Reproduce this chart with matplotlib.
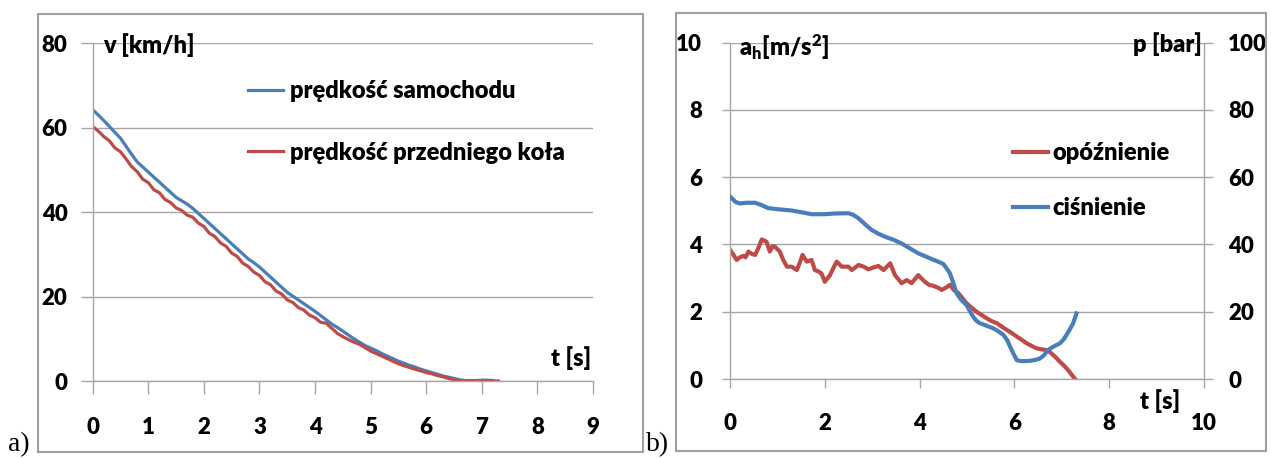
import matplotlib
matplotlib.use('Agg')
import matplotlib.pyplot as plt
from matplotlib.patches import Rectangle

FAM = 'Lato'
WEIGHT = 'heavy'
plt.rcParams['font.family'] = [FAM, 'DejaVu Sans']
plt.rcParams['font.weight'] = WEIGHT
plt.rcParams['mathtext.fontset'] = 'custom'
plt.rcParams['mathtext.rm'] = FAM + ':' + WEIGHT
plt.rcParams['mathtext.it'] = FAM + ':' + WEIGHT

# ---------------- data: panel a ----------------
t_car = [0.0, 0.1, 0.2, 0.3, 0.4, 0.5, 0.6, 0.7, 0.8, 0.9, 1.0, 1.1, 1.2, 1.3, 1.4, 1.5, 1.6, 1.7, 1.8, 1.9,
         2.0, 2.1, 2.2, 2.3, 2.4, 2.5, 2.6, 2.7, 2.8, 2.9, 3.0, 3.1, 3.2, 3.3, 3.4, 3.5, 3.6, 3.7, 3.8, 3.9,
         4.0, 4.1, 4.2, 4.3, 4.4, 4.5, 4.6, 4.7, 4.8, 4.9, 5.0, 5.1, 5.2, 5.3, 5.4, 5.5, 5.6, 5.7, 5.8, 5.9,
         6.0, 6.1, 6.2, 6.3, 6.4, 6.5, 6.6, 6.7, 6.8, 6.9, 7.0, 7.1, 7.2]
v_car = [64.3, 63.0, 61.7, 60.3, 58.9, 57.5, 55.6, 53.7, 51.9, 50.7, 49.5, 48.3, 47.1, 45.9, 44.7, 43.5, 42.7, 41.9, 40.9, 39.7,
         38.5, 37.3, 36.1, 34.9, 33.7, 32.5, 31.3, 30.1, 28.9, 28.0, 27.0, 25.8, 24.6, 23.4, 22.2, 21.0, 20.1, 19.2, 18.3, 17.4,
         16.5, 15.5, 14.5, 13.5, 12.7, 11.8, 10.9, 10.0, 9.2, 8.4, 7.8, 7.2, 6.5, 5.9, 5.3, 4.7, 4.2, 3.7, 3.3, 2.8,
         2.4, 2.0, 1.6, 1.2, 0.9, 0.6, 0.3, 0.1, 0.1, 0.1, 0.2, 0.2, 0.1]
t_wheel = [0.0, 0.1, 0.2, 0.3, 0.4, 0.5, 0.6, 0.7, 0.8, 0.9, 1.0, 1.1, 1.2, 1.3, 1.4, 1.5, 1.6, 1.7, 1.8, 1.9,
           2.0, 2.1, 2.2, 2.3, 2.4, 2.5, 2.6, 2.7, 2.8, 2.9, 3.0, 3.1, 3.2, 3.3, 3.4, 3.5, 3.6, 3.7, 3.8, 3.9,
           4.0, 4.1, 4.2, 4.3, 4.4, 4.5, 4.6, 4.7, 4.8, 4.9, 5.0, 5.1, 5.2, 5.3, 5.4, 5.5, 5.6, 5.7, 5.8, 5.9,
           6.0, 6.1, 6.2, 6.3, 6.4, 6.5, 6.6, 6.7, 6.8, 6.9, 7.0, 7.1, 7.2, 7.3]
v_wheel = [60.3, 59.2, 57.9, 56.9, 55.2, 54.3, 52.6, 50.8, 49.6, 47.8, 47.0, 45.3, 44.6, 43.0, 42.3, 41.0, 40.4, 39.3, 38.8, 37.4,
           36.6, 35.0, 34.2, 32.7, 31.9, 30.3, 29.5, 27.9, 27.1, 25.8, 25.0, 23.5, 22.8, 21.3, 20.6, 19.2, 18.6, 17.4, 16.8, 15.6,
           15.0, 13.9, 13.7, 12.5, 11.3, 10.5, 9.8, 9.2, 8.7, 7.9, 7.1, 6.5, 5.9, 5.3, 4.7, 4.1, 3.6, 3.2, 2.8, 2.4,
           2.0, 1.7, 1.3, 1.0, 0.6, 0.3, 0.0, 0.0, 0.0, 0.0, 0.0, 0.0, 0.0, 0.0]
xticks_a = [0, 1, 2, 3, 4, 5, 6, 7, 8, 9]
yticks_a = [0, 20, 40, 60, 80]

# ---------------- data: panel b ----------------
t_dec = [0.0, 0.07, 0.14, 0.21, 0.28, 0.33, 0.39, 0.46, 0.53, 0.60, 0.67, 0.72, 0.77, 0.84, 0.90, 0.95,
         1.05, 1.12, 1.2, 1.3, 1.41, 1.47, 1.53, 1.62, 1.72, 1.79, 1.86, 1.93, 2.0, 2.11, 2.18, 2.25,
         2.36, 2.5, 2.57, 2.71, 2.82, 2.92, 3.03, 3.13, 3.24, 3.38, 3.48, 3.62, 3.73, 3.83, 3.97, 4.11,
         4.2, 4.29, 4.38, 4.47, 4.56, 4.64, 4.72, 4.82, 4.99, 5.1, 5.2, 5.31, 5.42, 5.52, 5.63, 5.74,
         5.84, 5.95, 6.05, 6.16, 6.26, 6.37, 6.47, 6.58, 6.68, 6.75, 6.82, 6.89, 6.96, 7.03, 7.1, 7.17,
         7.24, 7.28]
a_dec = [3.84, 3.70, 3.54, 3.62, 3.66, 3.62, 3.79, 3.72, 3.69, 3.90, 4.15, 4.12, 4.08, 3.79, 3.95, 3.93,
         3.79, 3.55, 3.34, 3.34, 3.24, 3.45, 3.69, 3.49, 3.54, 3.24, 3.20, 3.14, 2.89, 3.09, 3.30, 3.49,
         3.34, 3.34, 3.24, 3.39, 3.34, 3.26, 3.32, 3.36, 3.24, 3.44, 3.09, 2.85, 2.94, 2.85, 3.09, 2.89,
         2.80, 2.77, 2.72, 2.65, 2.72, 2.80, 2.65, 2.55, 2.25, 2.12, 2.00, 1.90, 1.80, 1.72, 1.66, 1.55,
         1.46, 1.36, 1.26, 1.16, 1.06, 0.98, 0.91, 0.88, 0.86, 0.80, 0.71, 0.62, 0.51, 0.42, 0.32, 0.20,
         0.07, 0.0]
t_pres = [0.0, 0.05, 0.12, 0.21, 0.35, 0.53, 0.65, 0.81, 1.0, 1.3, 1.5, 1.72, 2.0, 2.2, 2.5, 2.6,
          2.71, 2.85, 2.99, 3.13, 3.27, 3.45, 3.62, 3.8, 3.97, 4.2, 4.39, 4.5, 4.57, 4.64, 4.7, 4.78,
          4.88, 4.99, 5.06, 5.13, 5.2, 5.27, 5.4, 5.55, 5.66, 5.77, 5.85, 5.91, 5.98, 6.05, 6.15, 6.33,
          6.45, 6.54, 6.62, 6.68, 6.75, 6.82, 6.96, 7.04, 7.1, 7.17, 7.24, 7.31]
p_pres = [54.2, 53.6, 52.6, 52.2, 52.4, 52.4, 51.8, 50.8, 50.5, 50.1, 49.6, 49.0, 49.0, 49.2, 49.3, 48.8,
          47.8, 46.0, 44.3, 43.2, 42.3, 41.4, 40.3, 38.8, 37.4, 36.0, 34.9, 34.2, 32.9, 31.4, 29.0, 25.5,
          23.5, 22.0, 20.2, 18.5, 17.3, 16.6, 15.9, 15.1, 14.2, 13.1, 11.5, 9.6, 7.5, 5.6, 5.3, 5.4,
          5.7, 6.1, 7.0, 8.1, 9.0, 9.6, 10.6, 11.8, 13.1, 14.8, 16.6, 19.5]
xticks_b = [0, 2, 4, 6, 8, 10]
yticks_b = [0, 2, 4, 6, 8, 10]
yticks_b2 = [0, 20, 40, 60, 80, 100]

BLUE = '#4A7EBB'
RED = '#BE4B48'
GRID = '#A6A6A6'
FS_TICK = 16
FS_TXT = 17

W, H = 1271, 459
fig = plt.figure(figsize=(W / 100, H / 100), dpi=100)


def px_axes(l, t, r, b):
    return fig.add_axes([l / W, 1 - b / H, (r - l) / W, (b - t) / H])


# outer frames
fig.patches.append(Rectangle((38 / W, 1 - 452 / H), (643 - 38) / W, (452 - 14) / H,
                             transform=fig.transFigure, fill=False, edgecolor='#A0A0A0', lw=1.5))
fig.patches.append(Rectangle((676 / W, 1 - 451 / H), (1266 - 676) / W, (451 - 13) / H,
                             transform=fig.transFigure, fill=False, edgecolor='#A0A0A0', lw=1.5))


def style(ax):
    for s in ['top', 'right']:
        ax.spines[s].set_visible(False)
    for s in ['left', 'bottom']:
        ax.spines[s].set_color(GRID)
        ax.spines[s].set_linewidth(1.0)
    ax.grid(axis='y', color=GRID, lw=1.0)
    ax.set_axisbelow(True)
    ax.tick_params(colors=GRID, labelcolor='black', width=1.0)


# ---------------- panel a ----------------
axa = px_axes(92.7, 43.3, 593, 381)
style(axa)
axa.plot(t_car, v_car, color=BLUE, lw=2.3, label='prędkość samochodu', solid_joinstyle='round')
axa.plot(t_wheel, v_wheel, color=RED, lw=2.3, label='prędkość przedniego koła', solid_joinstyle='round')
axa.set_xlim(0, 9)
axa.set_ylim(0, 80)
axa.set_xticks(xticks_a)
axa.set_yticks(yticks_a)
axa.tick_params(axis='x', length=9, pad=17, labelsize=FS_TICK)
axa.tick_params(axis='y', length=9, pad=9, labelsize=FS_TICK)
axa.text(0.19, 79.6, 'v [km/h]', fontsize=FS_TXT, ha='left', va='center')
axa.text(8.97, 5.4, 't [s]', fontsize=FS_TXT, ha='right', va='center')
axa.legend(loc='upper left', bbox_to_anchor=(0.31, 0.89), frameon=False, fontsize=FS_TXT,
           handlelength=1.5, handletextpad=0.3, labelspacing=1.66, borderpad=0, borderaxespad=0)

# ---------------- panel b ----------------
axb = px_axes(730, 42.7, 1204, 379)
style(axb)
l1, = axb.plot(t_dec, a_dec, color=RED, lw=3.0, label='opóźnienie', solid_joinstyle='round')
axb.set_xlim(0, 10)
axb.set_ylim(0, 10)
axb.set_xticks(xticks_b)
axb.set_yticks(yticks_b)
axb.tick_params(axis='x', length=6.5, pad=18, labelsize=FS_TICK)
axb.tick_params(axis='y', length=6, pad=14, labelsize=FS_TICK)

axb2 = axb.twinx()
for s in ['top', 'left', 'bottom']:
    axb2.spines[s].set_visible(False)
axb2.spines['right'].set_color(GRID)
axb2.spines['right'].set_linewidth(1.0)
l2, = axb2.plot(t_pres, p_pres, color=BLUE, lw=3.0, label='ciśnienie', solid_joinstyle='round')
axb2.set_ylim(0, 100)
axb2.set_yticks(yticks_b2)
axb2.tick_params(axis='y', length=6.5, pad=11, labelsize=FS_TICK, colors=GRID, labelcolor='black', width=1.0)

axb.text(0.2, 9.88, r'$\mathrm{a_h[m/s^2]}$', fontsize=FS_TXT, ha='left', va='center')
axb.text(9.95, 9.95, 'p [bar]', fontsize=FS_TXT, ha='right', va='center')
axb.text(9.49, -0.67, 't [s]', fontsize=FS_TXT, ha='right', va='center', clip_on=False)
axb2.legend(handles=[l1, l2], loc='upper left', bbox_to_anchor=(0.597, 0.705), frameon=False,
            fontsize=FS_TXT, handlelength=1.5, handletextpad=0.15, labelspacing=1.4,
            borderpad=0, borderaxespad=0)

# panel letters
fig.text(8 / W, 1 - 451 / H, 'a)', fontsize=20, family='Liberation Serif', weight='normal',
         ha='left', va='baseline')
fig.text(646 / W, 1 - 451 / H, 'b)', fontsize=20, family='Liberation Serif', weight='normal',
         ha='left', va='baseline')

fig.savefig('out.png', dpi=100)
